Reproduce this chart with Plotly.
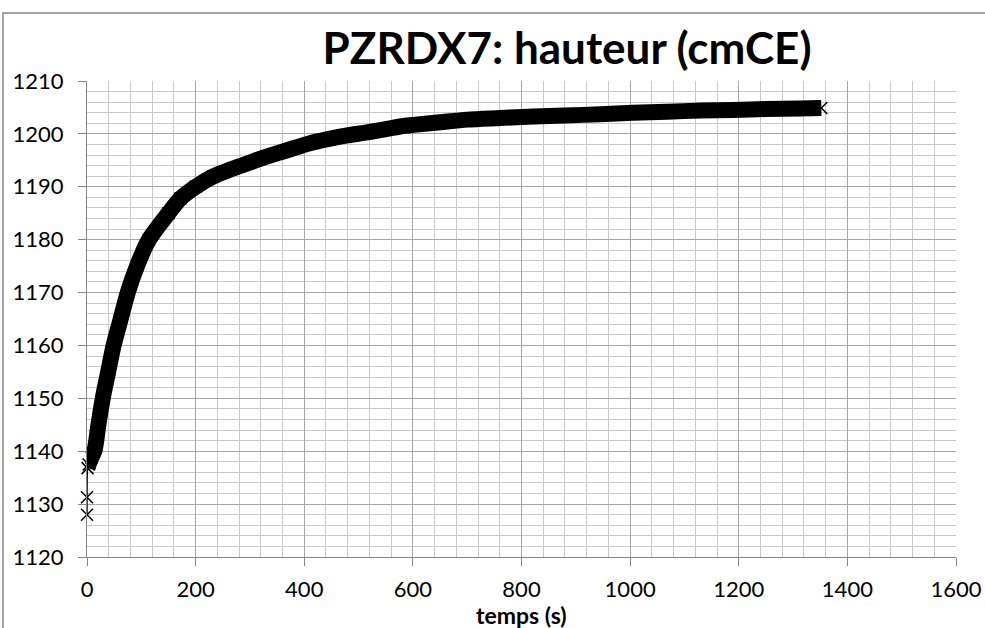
import plotly.graph_objects as go

# Data
temps = [0, 0, 1, 3, 8, 14, 21, 29, 39, 49, 62, 75, 92, 114, 150, 172, 200, 233, 265, 295,
         325, 356, 387, 417, 448, 479, 510, 540, 577, 601, 650, 700, 760, 822, 880, 945,
         1005, 1068, 1130, 1190, 1250, 1313, 1352]
hauteur = [1128.0, 1131.3, 1136.8, 1137.5, 1138.8, 1140.2, 1145.0, 1150.0, 1155.0, 1160.0,
           1165.0, 1170.0, 1175.0, 1180.0, 1185.0, 1187.8, 1190.0, 1192.0, 1193.3, 1194.4,
           1195.5, 1196.5, 1197.5, 1198.4, 1199.1, 1199.7, 1200.2, 1200.7, 1201.4, 1201.7,
           1202.2, 1202.7, 1203.0, 1203.3, 1203.5, 1203.7, 1204.0, 1204.2, 1204.4, 1204.5,
           1204.7, 1204.8, 1204.9]

title_text = "PZRDX7: hauteur (cmCE)"
x_title = "temps (s)"
x_ticks = [0, 200, 400, 600, 800, 1000, 1200, 1400, 1600]
y_ticks = [1120, 1130, 1140, 1150, 1160, 1170, 1180, 1190, 1200, 1210]

FONT = "Lato, Carlito, Calibri, sans-serif"
L, R, T, B = 87, 29, 81, 71
W, H = 985, 628
PW, PH = W - L - R, H - T - B

fig = go.Figure()
# thick band formed by the dense cloud of markers
fig.add_trace(go.Scatter(x=temps[2:], y=hauteur[2:], mode="lines",
                         line=dict(color="black", width=16, shape="spline", smoothing=0.8),
                         hoverinfo="skip", showlegend=False))
fig.add_trace(go.Scatter(x=temps, y=hauteur, mode="lines+markers",
                         line=dict(color="black", width=1.5, shape="spline", smoothing=0.8),
                         marker=dict(symbol="x-thin", size=12,
                                     line=dict(color="black", width=1.5)),
                         cliponaxis=False, showlegend=False))

axis_common = dict(
    showgrid=True, gridcolor="#a6a6a6", gridwidth=1,
    ticks="outside", ticklen=8, tickcolor="#868686", tickwidth=1,
    showline=True, linecolor="#868686", linewidth=1,
    zeroline=False, tickfont=dict(family=FONT, size=22, color="black"),
    mirror=False, automargin=False,
)

fig.update_xaxes(range=[0, 1600], tickvals=x_ticks, ticklabelstandoff=5,
                 minor=dict(dtick=40, showgrid=True, gridcolor="#c8c8c8", gridwidth=1, ticklen=0),
                 **axis_common)
fig.update_yaxes(range=[1120, 1210], tickvals=y_ticks, ticklabelstandoff=10,
                 minor=dict(dtick=2, showgrid=True, gridcolor="#c8c8c8", gridwidth=1, ticklen=0),
                 **axis_common)

fig.update_layout(
    width=W, height=H,
    margin=dict(l=L, r=R, t=T, b=B, autoexpand=False),
    paper_bgcolor="white", plot_bgcolor="white",
    title=dict(text="<b>" + title_text + "</b>", x=567 / W, xanchor="center",
               y=1 - 49 / H, yanchor="middle",
               font=dict(family=FONT, size=44, color="black")),
    annotations=[dict(text="<b>" + x_title + "</b>", xref="paper", yref="paper",
                      x=0.5, y=(H - B - 615) / PH, xanchor="center", yanchor="middle",
                      showarrow=False, font=dict(family=FONT, size=23, color="black"))],
    shapes=[dict(type="rect", xref="paper", yref="paper",
                 x0=(3 - L) / PW, x1=(995 - L) / PW,
                 y0=(H - B - 640) / PH, y1=(H - B - 13) / PH,
                 line=dict(color="#868686", width=1.5), layer="below")],
)

fig.write_html("out.html", config={"displayModeBar": False},
               post_script="document.body.style.margin='0';document.body.style.overflow='hidden';")
